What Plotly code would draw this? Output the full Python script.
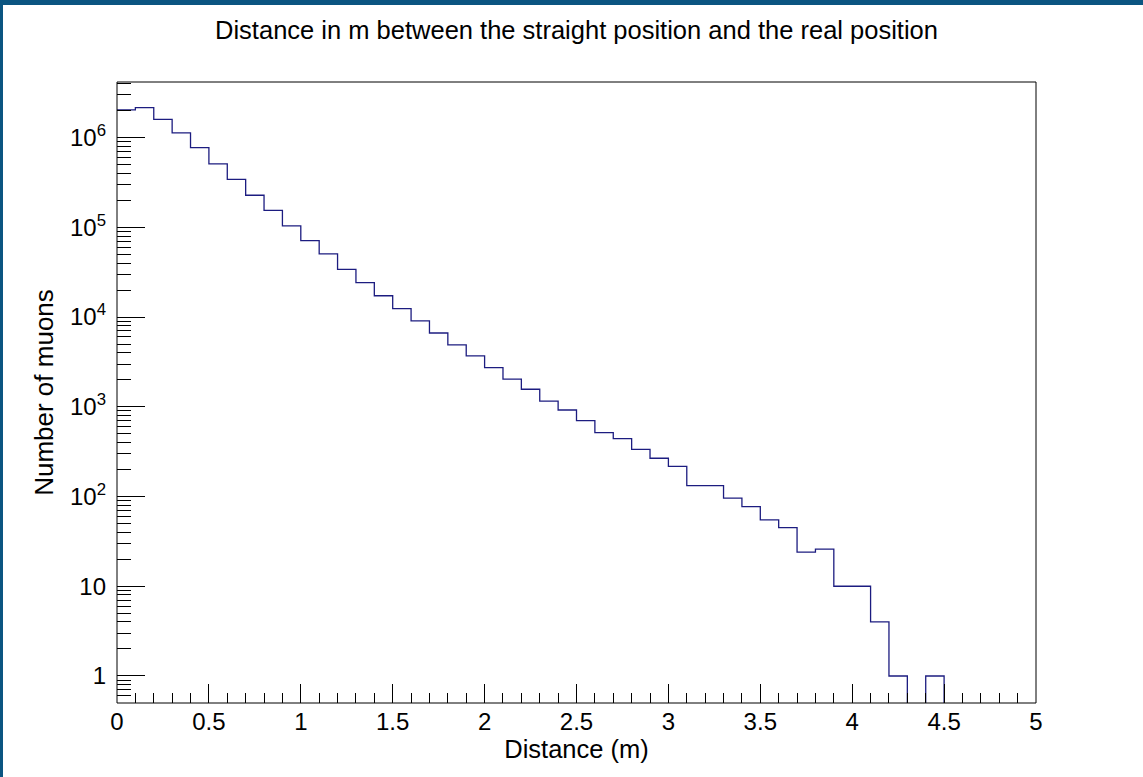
import plotly.graph_objects as go

# Histogram: distance between straight and real muon position (0.1 m bins)
bin_edges = [round(i * 0.1, 1) for i in range(51)]
counts = [2040000, 2160000, 1600000, 1130000, 773000, 509000, 343000, 228000, 155000, 104000,
          71100, 50600, 34100, 24200, 17300, 12400, 9060, 6650, 4890, 3690,
          2730, 2030, 1570, 1160, 922, 701, 515, 442, 336, 267,
          217, 132, 132, 96, 77, 55, 45, 24, 26, 10,
          10, 4, 1, 0, 1, 0, 0, 0, 0, 0]

y_tickvals = [1, 10, 100, 1000, 10000, 100000, 1000000]
y_ticktext = ["1", "10", "10<sup>2</sup>", "10<sup>3</sup>", "10<sup>4</sup>", "10<sup>5</sup>", "10<sup>6</sup>"]
x_tickvals = [0, 0.5, 1, 1.5, 2, 2.5, 3, 3.5, 4, 4.5, 5]
x_ticktext = ["0", "0.5", "1", "1.5", "2", "2.5", "3", "3.5", "4", "4.5", "5"]

# empty bins are drawn below the axis so the line drops to the frame (like ROOT)
plot_y = [c if c > 0 else 1e-3 for c in counts] + [counts[-1] if counts[-1] > 0 else 1e-3]

W, H = 1143, 777
L, R, T, B = 117, 107, 82, 74
pw, ph = W - L - R, H - T - B

fig = go.Figure()
fig.add_trace(go.Scatter(x=bin_edges, y=plot_y, mode="lines", line=dict(shape="hv", color="#1c1c80", width=1.3),
                         hoverinfo="skip", showlegend=False))

font = "Liberation Sans, Arial, sans-serif"
fig.update_layout(
    width=W, height=H,
    margin=dict(l=L, r=R, t=T, b=B),
    paper_bgcolor="white", plot_bgcolor="white",
    font=dict(family=font, color="black", size=24),
    title=dict(text="Distance in m between the straight position and the real position",
               x=0.5, xref="paper", xanchor="center", y=1 - 30 / H, yanchor="middle",
               font=dict(size=25.5)),
    shapes=[
        # frame around plot area
        dict(type="rect", xref="paper", yref="paper", x0=0, x1=1, y0=0, y1=1,
             line=dict(color="black", width=1)),
        # blue window border (top and left)
        dict(type="rect", xref="paper", yref="paper", x0=-L / pw, x1=(W - L) / pw,
             y0=1 + (T - 5) / ph, y1=1 + T / ph, fillcolor="#0b5581", line=dict(width=0), layer="above"),
        dict(type="rect", xref="paper", yref="paper", x0=-L / pw, x1=(-L + 3) / pw,
             y0=-B / ph, y1=1 + T / ph, fillcolor="#0b5581", line=dict(width=0), layer="above"),
    ],
)

fig.update_xaxes(range=[0, 5], tickvals=x_tickvals, ticktext=x_ticktext,
                 ticks="inside", ticklen=19, tickcolor="black", tickwidth=1, ticklabelstandoff=2,
                 minor=dict(ticks="inside", ticklen=10, dtick=0.1, tickcolor="black", tickwidth=1),
                 showgrid=False, zeroline=False, showline=False,
                 title=dict(text="Distance (m)", standoff=0, font=dict(size=25.5)),
                 tickfont=dict(size=24))
fig.update_yaxes(type="log", range=[-0.301, 6.62], tickvals=y_tickvals, ticktext=y_ticktext,
                 ticks="inside", ticklen=28, tickcolor="black", tickwidth=1, ticklabelstandoff=10,
                 minor=dict(ticks="inside", ticklen=14, dtick="D1", tickcolor="black", tickwidth=1),
                 showgrid=False, zeroline=False, showline=False,
                 title=dict(text="Number of muons", standoff=8, font=dict(size=26)),
                 tickfont=dict(size=24))

fig.write_html("out.html", config={"displayModeBar": False},
               post_script="document.body.style.margin='0';")
